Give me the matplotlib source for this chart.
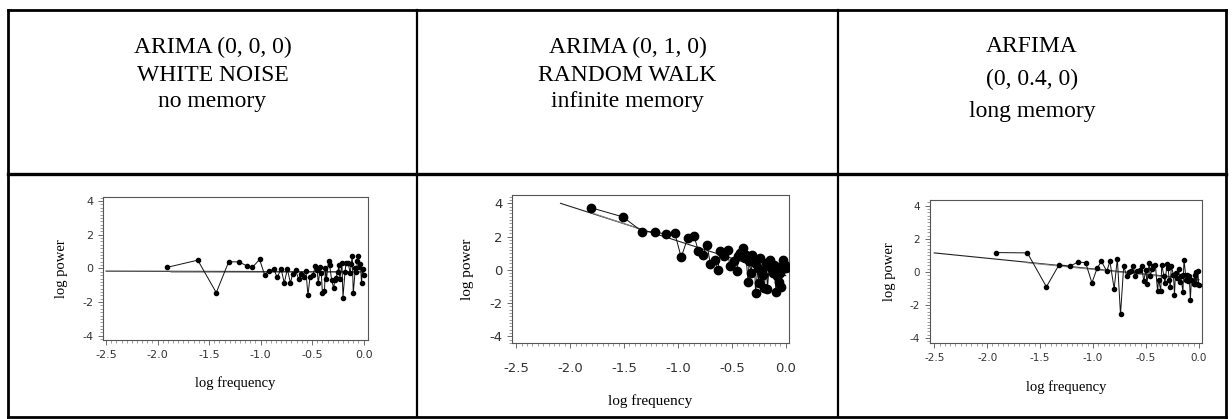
import matplotlib
matplotlib.use("Agg")
import matplotlib.pyplot as plt
from matplotlib.lines import Line2D
from matplotlib.ticker import MultipleLocator, FixedLocator

# ---------------- data ----------------
titles = [
    ["ARIMA (0, 0, 0)", "WHITE NOISE", "no memory"],
    ["ARIMA (0, 1, 0)", "RANDOM WALK", "infinite memory"],
    ["ARFIMA", "(0, 0.4, 0)", "long memory"],
]

wn_x = [-1.91, -1.61, -1.43, -1.31, -1.21, -1.13, -1.08, -1.01, -0.96, -0.92, -0.87, -0.84,
        -0.80, -0.77, -0.74, -0.71, -0.69, -0.66, -0.63, -0.61, -0.58, -0.56, -0.54, -0.52,
        -0.49, -0.47, -0.45, -0.44, -0.42, -0.41, -0.40, -0.38, -0.37, -0.36, -0.34, -0.33,
        -0.31, -0.29, -0.28, -0.27, -0.25, -0.24, -0.23, -0.21, -0.20, -0.18, -0.17, -0.15,
        -0.13, -0.12, -0.11, -0.10, -0.08, -0.07, -0.06, -0.05, -0.04, -0.03, -0.02, -0.01, 0.0]
wn_y = [0.06, 0.49, -1.44, 0.39, 0.39, 0.14, 0.06, 0.53, -0.39, -0.14, -0.04, -0.53,
        -0.04, -0.87, -0.04, -0.87, -0.35, -0.10, -0.65, -0.32, -0.49, -0.14, -1.60, -0.49,
        -0.39, 0.14, -0.12, -0.89, 0.06, -0.30, -1.44, -1.34, 0.0, -0.63, 0.45, 0.20,
        -0.69, -1.18, -0.69, -0.59, -0.20, 0.18, -0.63, 0.30, -1.73, -0.20, 0.30, 0.35,
        -0.30, 0.24, 0.73, -1.48, 0.0, -0.20, 0.43, 0.71, 0.10, 0.24, -0.85, -0.04, -0.39]
wn_fit_x = [-2.5, 0.0]
wn_fit_y = [-0.16, -0.20]
wn_fit2_x = [-1.87, 0.0]
wn_fit2_y = [-0.22, -0.24]

rw_x = [-1.81, -1.51, -1.33, -1.21, -1.11, -1.03, -0.97, -0.91, -0.85, -0.81, -0.77, -0.73,
        -0.70, -0.66, -0.63, -0.61, -0.57, -0.54, -0.52, -0.48, -0.45, -0.44, -0.42, -0.40,
        -0.38, -0.37, -0.35, -0.34, -0.32, -0.31, -0.29, -0.28, -0.26, -0.25, -0.24, -0.22,
        -0.21, -0.20, -0.18, -0.17, -0.15, -0.14, -0.12, -0.11, -0.09, -0.08, -0.07, -0.06,
        -0.05, -0.04, -0.03, -0.02, -0.01, 0.0]
rw_y = [3.74, 3.18, 2.29, 2.29, 2.13, 2.21, 0.75, 1.92, 2.02, 1.11, 0.91, 1.50,
        0.34, 0.57, -0.04, 1.13, 0.81, 1.21, 0.24, 0.51, -0.06, 0.81, 1.01, 1.30,
        0.71, 0.91, -0.71, 0.51, -0.20, 0.91, 0.40, -1.42, 0.10, -0.81, 0.71, -0.10,
        -0.30, -1.11, 0.40, -1.17, 0.61, 0.10, -0.20, 0.30, -1.36, -0.40, 0.20, -0.71,
        -0.20, -1.01, 0.61, 0.10, 0.30, 0.10]
rw_fit_x = [-2.09, 0.0]
rw_fit_y = [4.0, -0.35]
rw_fit2_x = [-1.81, -1.33]
rw_fit2_y = [3.45, 2.4]

af_x = [-1.92, -1.62, -1.44, -1.32, -1.22, -1.14, -1.07, -1.01, -0.96, -0.92, -0.87, -0.84,
        -0.80, -0.77, -0.74, -0.71, -0.68, -0.66, -0.64, -0.62, -0.60, -0.58, -0.56, -0.54,
        -0.52, -0.50, -0.49, -0.47, -0.46, -0.44, -0.43, -0.41, -0.39, -0.38, -0.36, -0.35,
        -0.33, -0.32, -0.30, -0.29, -0.28, -0.27, -0.26, -0.24, -0.23, -0.22, -0.21, -0.19,
        -0.18, -0.17, -0.15, -0.145, -0.14, -0.12, -0.11, -0.10, -0.09, -0.08, -0.07, -0.05,
        -0.04, -0.035, -0.03, -0.02, -0.01, 0.0]
af_y = [1.17, 1.15, -0.90, 0.44, 0.34, 0.60, 0.56, -0.66, 0.24, 0.64, 0.04, 0.64,
        -1.03, 0.80, -2.57, 0.34, -0.26, 0.0, 0.04, 0.34, -0.26, 0.08, 0.14, 0.34,
        -0.56, 0.14, -0.72, 0.54, -0.26, 0.20, 0.38, 0.40, -1.17, -0.46, -1.13, 0.44,
        -0.26, -0.66, 0.50, 0.24, -0.46, -0.92, 0.34, -0.16, -1.37, -0.06, -0.36, 0.20,
        -0.60, -0.26, -1.23, -0.16, 0.74, -0.46, -0.16, -0.56, -0.26, -1.67, -0.46, -0.72,
        -0.16, -0.76, 0.0, -0.76, 0.04, -0.80]
af_fit_x = [-2.5, 0.0]
af_fit_y = [1.15, -0.46]
af_fit2_x = [-1.62, 0.0]
af_fit2_y = [0.55, -0.50]

xticks = [-2.5, -2.0, -1.5, -1.0, -0.5, 0.0]
xtick_labels = ["-2.5", "-2.0", "-1.5", "-1.0", "-0.5", "0.0"]
yticks = [-4, -2, 0, 2, 4]
ytick_labels = ["-4", "-2", "0", "2", "4"]

# ---------------- figure ----------------
W, H = 1232, 419
fig = plt.figure(figsize=(W / 100, H / 100), dpi=100)
fig.patch.set_facecolor("white")

def fx(px):
    return px / W

def fy(py):
    return 1 - py / H

# table lines
left, right, top, bottom, sep = 8, 1226, 10, 417, 174
cols = [417, 838]
lines = [
    ((left, right), (top, top), 2.0),
    ((left, right), (sep, sep), 2.4),
    ((left, right), (bottom, bottom), 2.0),
    ((left, left), (top, bottom), 2.0),
    ((right, right), (top, bottom), 2.0),
    ((cols[0], cols[0]), (top, bottom), 1.6),
    ((cols[1], cols[1]), (top, bottom), 1.6),
]
for xs, ys, lw in lines:
    fig.add_artist(Line2D([fx(x) for x in xs], [fy(y) for y in ys],
                          color="black", lw=lw, transform=fig.transFigure))

# header texts
col_centers = [(left + cols[0]) / 2, (cols[0] + cols[1]) / 2, (cols[1] + right) / 2]
line_y = [[47, 75, 102], [47, 75, 102], [47, 79, 112]]
for ci, t in enumerate(titles):
    for li, s in enumerate(t):
        fig.text(fx(col_centers[ci]), fy(line_y[ci][li]), s, ha="center", va="center",
                 fontsize=17, family="Liberation Serif", color="black")

# axes
panels = [
    dict(box=(103, 197, 368, 340), x=wn_x, y=wn_y, fx=wn_fit_x, fy=wn_fit_y,
         f2x=wn_fit2_x, f2y=wn_fit2_y, ms=3.0, tfs=8, lfs=10.5, ylim=(-4.25, 4.24),
         xlim=(-2.53, 0.043), ylab_x=61, xlab_y=383, pad=4),
    dict(box=(512, 195, 789, 343), x=rw_x, y=rw_y, fx=rw_fit_x, fy=rw_fit_y,
         f2x=rw_fit2_x, f2y=rw_fit2_y, ms=6.0, tfs=9.5, lfs=11, ylim=(-4.4, 4.5),
         xlim=(-2.54, 0.03), ylab_x=468, xlab_y=401, pad=10),
    dict(box=(930, 200, 1202, 343), x=af_x, y=af_y, fx=af_fit_x, fy=af_fit_y,
         f2x=af_fit2_x, f2y=af_fit2_y, ms=3.0, tfs=7.5, lfs=10.5, ylim=(-4.3, 4.35),
         xlim=(-2.54, 0.03), ylab_x=889, xlab_y=387, pad=4),
]

for p in panels:
    x0, y0, x1, y1 = p["box"]
    ax = fig.add_axes([fx(x0), fy(y1), (x1 - x0) / W, (y1 - y0) / H])
    ax.plot(p["fx"], p["fy"], color="#222222", lw=0.8, zorder=2)
    ax.plot(p["f2x"], p["f2y"], color="#888888", lw=0.8, zorder=2)
    ax.plot(p["x"], p["y"], color="#111111", lw=0.7, marker="o", ms=p["ms"],
            mfc="black", mec="black", zorder=3)
    ax.set_xlim(*p["xlim"])
    ax.set_ylim(*p["ylim"])
    ax.xaxis.set_major_locator(FixedLocator(xticks))
    ax.set_xticklabels(xtick_labels)
    ax.yaxis.set_major_locator(FixedLocator(yticks))
    ax.set_yticklabels(ytick_labels)
    ax.xaxis.set_minor_locator(MultipleLocator(0.05))
    ax.yaxis.set_minor_locator(MultipleLocator(0.2))
    ax.tick_params(which="major", length=3.5, width=0.6, color="#555555",
                   labelsize=p["tfs"], labelcolor="#333333", direction="out")
    ax.tick_params(axis="x", which="major", pad=p["pad"])
    ax.tick_params(which="minor", length=2, width=0.5, color="#777777", direction="out")
    for sp in ax.spines.values():
        sp.set_color("#555555")
        sp.set_linewidth(0.8)
    for lab in ax.get_xticklabels() + ax.get_yticklabels():
        lab.set_family("DejaVu Sans")
    fig.text(fx(p["ylab_x"]), fy((y0 + y1) / 2), "log power", rotation=90,
             ha="center", va="center", fontsize=p["lfs"], family="Liberation Serif")
    fig.text(fx((x0 + x1) / 2), fy(p["xlab_y"]), "log frequency",
             ha="center", va="center", fontsize=p["lfs"], family="Liberation Serif")

fig.savefig("out.png", dpi=100, facecolor="white")
